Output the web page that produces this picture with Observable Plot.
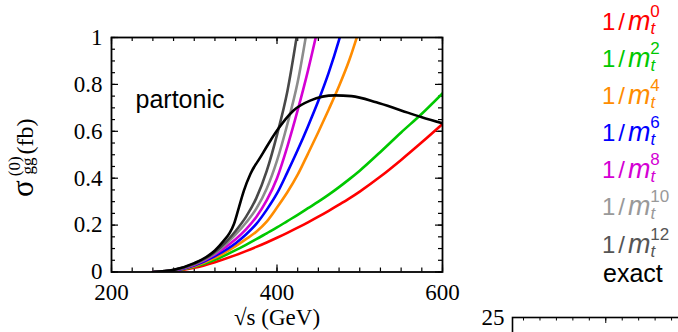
<!DOCTYPE html>
<html><head><meta charset="utf-8">
<script src="https://cdn.jsdelivr.net/npm/d3@7"></script>
<script src="https://cdn.jsdelivr.net/npm/@observablehq/plot@0.6"></script>
<style>
body{margin:0;background:#fff;}
#wrap{position:relative;width:678px;height:332px;overflow:hidden;background:#fff;}
#main{position:absolute;left:0;top:0;}
#lower{position:absolute;left:460px;top:290px;width:218px;height:42px;overflow:hidden;}
svg{max-width:none !important;}
</style></head><body>
<div id="wrap"><div id="main"></div><div id="lower"></div></div>
<script>
// ---- data ----
const sGrid = [250, 275, 300, 325, 350, 362.5, 375, 387.5, 400, 412.5, 425, 437.5, 450, 462.5, 475, 487.5, 500, 525, 550, 575, 600];
const sigmaM0  = [0, 0.004, 0.018, 0.042, 0.072, 0.089, 0.107, 0.126, 0.146, 0.167, 0.189, 0.212, 0.236, 0.261, 0.287, 0.314, 0.343, 0.407, 0.478, 0.553, 0.631];
const sigmaM2  = [0, 0.005, 0.022, 0.052, 0.093, 0.116, 0.140, 0.165, 0.190, 0.217, 0.244, 0.272, 0.300, 0.330, 0.362, 0.396, 0.432, 0.512, 0.595, 0.675, 0.762];
const sigmaM4  = [0, 0.006, 0.025, 0.060, 0.110, 0.140, 0.172, 0.215, 0.275, 0.340, 0.415, 0.505, 0.597, 0.693, 0.793, 0.905, 1.040];
const sigmaM6  = [0, 0.006, 0.028, 0.068, 0.123, 0.160, 0.205, 0.265, 0.335, 0.425, 0.520, 0.622, 0.730, 0.850, 0.990, 1.150];
const sigmaM8  = [0, 0.007, 0.031, 0.075, 0.140, 0.182, 0.235, 0.305, 0.400, 0.535, 0.690, 0.860, 1.050];
const sigmaM10 = [0, 0.008, 0.033, 0.080, 0.160, 0.210, 0.270, 0.355, 0.475, 0.630, 0.810, 1.060];
const sigmaM12 = [0, 0.008, 0.035, 0.085, 0.175, 0.235, 0.315, 0.430, 0.585, 0.770, 1.030];
const sExact     = [250, 275, 300, 315, 325, 336, 343, 348, 354, 360, 368, 380, 392, 400, 420, 440, 470, 490, 520, 550, 575, 600];
const sigmaExact = [0, 0.009, 0.038, 0.065, 0.092, 0.135, 0.168, 0.205, 0.276, 0.347, 0.419, 0.490, 0.560, 0.603, 0.689, 0.731, 0.753, 0.750, 0.724, 0.689, 0.660, 0.634];
const orders = ["0", "2", "4", "6", "8", "10", "12"];
const xLabelTicks = [200, 400, 600];
const yLabelTicks = [0, 0.2, 0.4, 0.6, 0.8, 1];

const lineColors = ["#ff0000", "#00c800", "#ff8c00", "#0000ff", "#d400d4", "#8c8c8c", "#484848"];
const textColors = ["#ff0000", "#00c800", "#ff8c00", "#0000ff", "#d400d4", "#999999", "#555555"];
const seriesVals = [sigmaM0, sigmaM2, sigmaM4, sigmaM6, sigmaM8, sigmaM10, sigmaM12];

const series = seriesVals.map((vals, i) => ({
  color: lineColors[i],
  rows: vals.map((v, j) => ({s: sGrid[j], sigma: v}))
}));
series.push({color: "#000000", rows: sExact.map((s, j) => ({s, sigma: sigmaExact[j]}))});

const xMinor = d3.range(200, 601, 25);
const yMinor = d3.range(0, 1.0001, 0.05);
const W = 331, H = 234.5;

const plot = Plot.plot({
  width: 678, height: 332,
  marginLeft: 111, marginRight: 236, marginTop: 37, marginBottom: 60.5,
  x: {domain: [200, 600]},
  y: {domain: [0, 1]},
  style: {fontFamily: "Liberation Serif", fontSize: "23px", background: "white", color: "black"},
  marks: [
    Plot.tickX(xMinor, {x: d => d, insetTop: H - 4, stroke: "black", strokeWidth: 1.2}),
    Plot.tickX(xMinor, {x: d => d, insetBottom: H - 4, stroke: "black", strokeWidth: 1.2}),
    Plot.tickX(xLabelTicks, {x: d => d, insetTop: H - 7, stroke: "black", strokeWidth: 1.2}),
    Plot.tickX(xLabelTicks, {x: d => d, insetBottom: H - 7, stroke: "black", strokeWidth: 1.2}),
    Plot.tickY(yMinor, {y: d => d, insetRight: W - 4, stroke: "black", strokeWidth: 1.2}),
    Plot.tickY(yMinor, {y: d => d, insetLeft: W - 4, stroke: "black", strokeWidth: 1.2}),
    Plot.tickY(yLabelTicks, {y: d => d, insetRight: W - 7, stroke: "black", strokeWidth: 1.2}),
    Plot.tickY(yLabelTicks, {y: d => d, insetLeft: W - 7, stroke: "black", strokeWidth: 1.2}),
    Plot.axisX({ticks: xLabelTicks, tickSize: 0, tickPadding: 12, label: null, fontSize: 23, tickFormat: d => String(d)}),
    Plot.axisY({ticks: yLabelTicks, tickSize: 0, tickPadding: 9, label: null, fontSize: 23, tickFormat: d => String(d)}),
    ...series.map(sr => Plot.line(sr.rows, {x: "s", y: "sigma", stroke: sr.color, strokeWidth: 2.6, curve: "monotone-x", clip: true})),
    Plot.frame({stroke: "black", strokeWidth: 1.8}),
    Plot.text(["partonic"], {frameAnchor: "top-left", dx: 24, dy: 70, textAnchor: "start", lineAnchor: "bottom", fontFamily: "Liberation Sans", fontSize: 25}),
    Plot.text(["√s (GeV)"], {frameAnchor: "bottom", dy: 53, lineAnchor: "bottom", fontSize: 23})
  ]
});
plot.style.maxWidth = "none";
document.getElementById("main").appendChild(plot);

const svg = d3.select(plot);
// y-axis label
const yl = svg.append("text")
  .attr("transform", "translate(33,197) rotate(-90)").attr("text-anchor", "start")
  .style("font-family", "Liberation Serif").style("font-size", "24px").attr("fill", "black");
yl.append("tspan").style("font-size", "31px").text("σ");
yl.append("tspan").attr("dx", 4).attr("dy", -13).style("font-size", "17px").text("(0)");
yl.append("tspan").attr("dx", -18).attr("dy", 13).style("font-size", "17px").text("gg");
yl.append("tspan").attr("dx", 3).text("(fb)");

// legend
const baselines = [30, 66.5, 103.5, 140.5, 178, 215, 252.5];
orders.forEach((o, i) => {
  const t = svg.append("text").attr("x", 602).attr("y", baselines[i]).attr("fill", textColors[i])
    .attr("text-anchor", "start")
    .style("font-family", "Liberation Sans").style("font-size", "24px");
  t.append("tspan").text("1");
  t.append("tspan").attr("dx", 3).text("/");
  t.append("tspan").attr("dx", 3).style("font-style", "italic").style("font-size", "27px").text("m");
  t.append("tspan").attr("dy", 4).style("font-style", "italic").style("font-size", "17px").text("t");
  t.append("tspan").attr("dx", -5).attr("dy", -17).style("font-size", "17px").text(o);
});
svg.append("text").attr("x", 603).attr("y", 281.5).attr("fill", "black").attr("text-anchor", "start")
  .style("font-family", "Liberation Sans").style("font-size", "25px").text("exact");

// partial lower panel (cropped in the reference)
const lowerXTicks = d3.range(1, 21);
const lowerXMajor = [6, 12, 18];
const lowerYTicks = [25];
const lower = Plot.plot({
  width: 400, height: 200,
  marginLeft: 52, marginRight: 19, marginTop: 27, marginBottom: 20,
  x: {domain: [0.33, 20.33], axis: null},
  y: {domain: [0, 25], axis: null},
  style: {fontFamily: "Liberation Serif", fontSize: "23px", background: "white", color: "black"},
  marks: [
    Plot.tickX(lowerXTicks, {x: d => d, insetBottom: 153 - 3.5, stroke: "black", strokeWidth: 1}),
    Plot.tickX(lowerXMajor, {x: d => d, insetBottom: 153 - 6, stroke: "black", strokeWidth: 1}),
    Plot.axisY({ticks: lowerYTicks, tickSize: 0, tickPadding: 8, label: null, fontSize: 23}),
    Plot.frame({stroke: "black", strokeWidth: 1.6})
  ]
});
lower.style.maxWidth = "none";
document.getElementById("lower").appendChild(lower);
</script>
</body></html>
